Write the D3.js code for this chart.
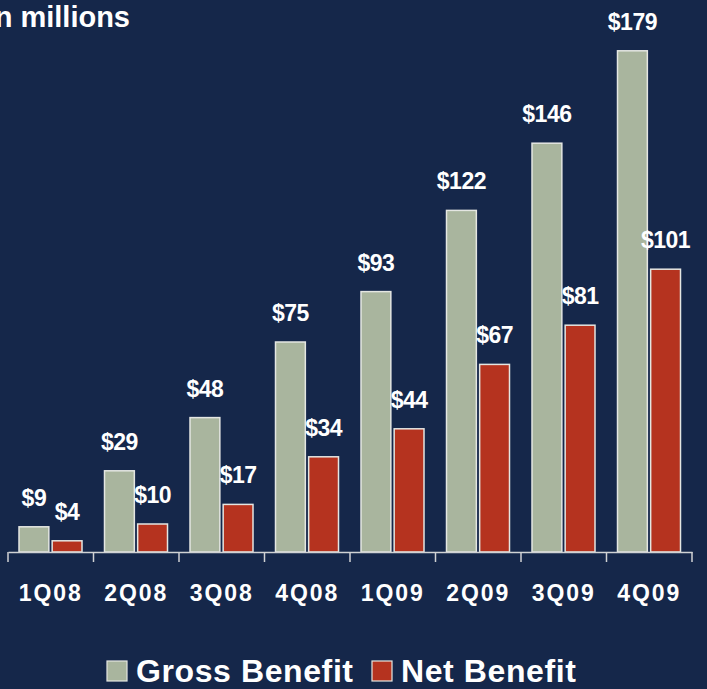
<!DOCTYPE html>
<html>
<head>
<meta charset="utf-8">
<script src="https://cdn.jsdelivr.net/npm/d3@7"></script>
<style>
  html, body { margin: 0; padding: 0; background: #15274a; }
  svg { display: block; }
  text { font-family: "Liberation Sans", Arial, Helvetica, sans-serif; fill: #ffffff; }
</style>
</head>
<body>
<div id="chart"></div>
<script>
const categories = ["1Q08", "2Q08", "3Q08", "4Q08", "1Q09", "2Q09", "3Q09", "4Q09"];
const seriesNames = ["Gross Benefit", "Net Benefit"];
const grossBenefit = [9, 29, 48, 75, 93, 122, 146, 179];
const netBenefit = [4, 10, 17, 34, 44, 67, 81, 101];
const seriesColors = ["#a9b59e", "#b5331f"];
const titleText = "$ in millions";

const W = 707, H = 689;
const svg = d3.select("#chart").append("svg")
  .attr("width", W).attr("height", H);

svg.append("rect").attr("width", W).attr("height", H).attr("fill", "#15274a");

const baseY = 552;
const x = d3.scaleBand().domain(categories).range([8, 692]).paddingInner(0).paddingOuter(0);
const xs = d3.scaleBand().domain(seriesNames).range([11, 74]).paddingInner(0.1).paddingOuter(0);
const y = d3.scaleLinear().domain([0, 180]).range([baseY, baseY - 504]);

const data = categories.map((c, i) => ({
  cat: c,
  values: [
    { s: seriesNames[0], v: grossBenefit[i], color: seriesColors[0] },
    { s: seriesNames[1], v: netBenefit[i], color: seriesColors[1] }
  ]
}));

// Title (clipped at the left edge as in the reference)
svg.append("text")
  .attr("x", 130).attr("y", 27)
  .attr("text-anchor", "end")
  .attr("font-size", 29).attr("font-weight", "bold")
  .text(titleText);

// Bars
const groups = svg.selectAll("g.grp").data(data).join("g")
  .attr("class", "grp")
  .attr("transform", d => `translate(${x(d.cat)},0)`);

groups.selectAll("rect").data(d => d.values).join("rect")
  .attr("x", d => xs(d.s))
  .attr("width", xs.bandwidth())
  .attr("y", d => y(d.v))
  .attr("height", d => baseY - y(d.v))
  .attr("fill", d => d.color)
  .attr("stroke", "#e4e6e2")
  .attr("stroke-width", 1.5);

groups.selectAll("text.val").data(d => d.values).join("text")
  .attr("class", "val")
  .attr("x", d => xs(d.s) + xs.bandwidth() / 2)
  .attr("y", d => y(d.v) - 21)
  .attr("text-anchor", "middle")
  .attr("font-size", 23).attr("font-weight", "bold")
  .attr("letter-spacing", "-0.5px")
  .text(d => "$" + d.v);

// Axis
const axis = d3.axisBottom(x).tickSize(0).tickPadding(0);
const gAxis = svg.append("g").attr("transform", `translate(0,${baseY})`).call(axis);
gAxis.select(".domain").attr("stroke", "#d0d2d4").attr("stroke-width", 1.5);
gAxis.selectAll(".tick text")
  .attr("y", 49).attr("dy", null)
  .attr("font-size", 23).attr("font-weight", "bold")
  .attr("letter-spacing", "2px")
  .attr("fill", "#ffffff")
  .style("font-family", '"Liberation Sans", Arial, sans-serif');
gAxis.selectAll(".tick line").remove();

// Boundary ticks
const bounds = categories.map(c => x(c)).concat([x(categories[categories.length - 1]) + x.bandwidth()]);
gAxis.selectAll("line.bound").data(bounds).join("line")
  .attr("class", "bound")
  .attr("x1", d => d).attr("x2", d => d)
  .attr("y1", 0).attr("y2", 10)
  .attr("stroke", "#d0d2d4").attr("stroke-width", 1.5);

// Legend
const legendX = [107, 372];
const leg = svg.selectAll("g.leg").data(seriesNames).join("g")
  .attr("class", "leg")
  .attr("transform", (d, i) => `translate(${legendX[i]},661)`);
leg.append("rect")
  .attr("width", 20).attr("height", 20)
  .attr("fill", (d, i) => seriesColors[i])
  .attr("stroke", "#e4e6e2").attr("stroke-width", 1.2);
leg.append("text")
  .attr("x", 29).attr("y", 21)
  .attr("font-size", 32).attr("font-weight", "bold")
  .attr("letter-spacing", "0.6px")
  .text(d => d);
</script>
</body>
</html>
